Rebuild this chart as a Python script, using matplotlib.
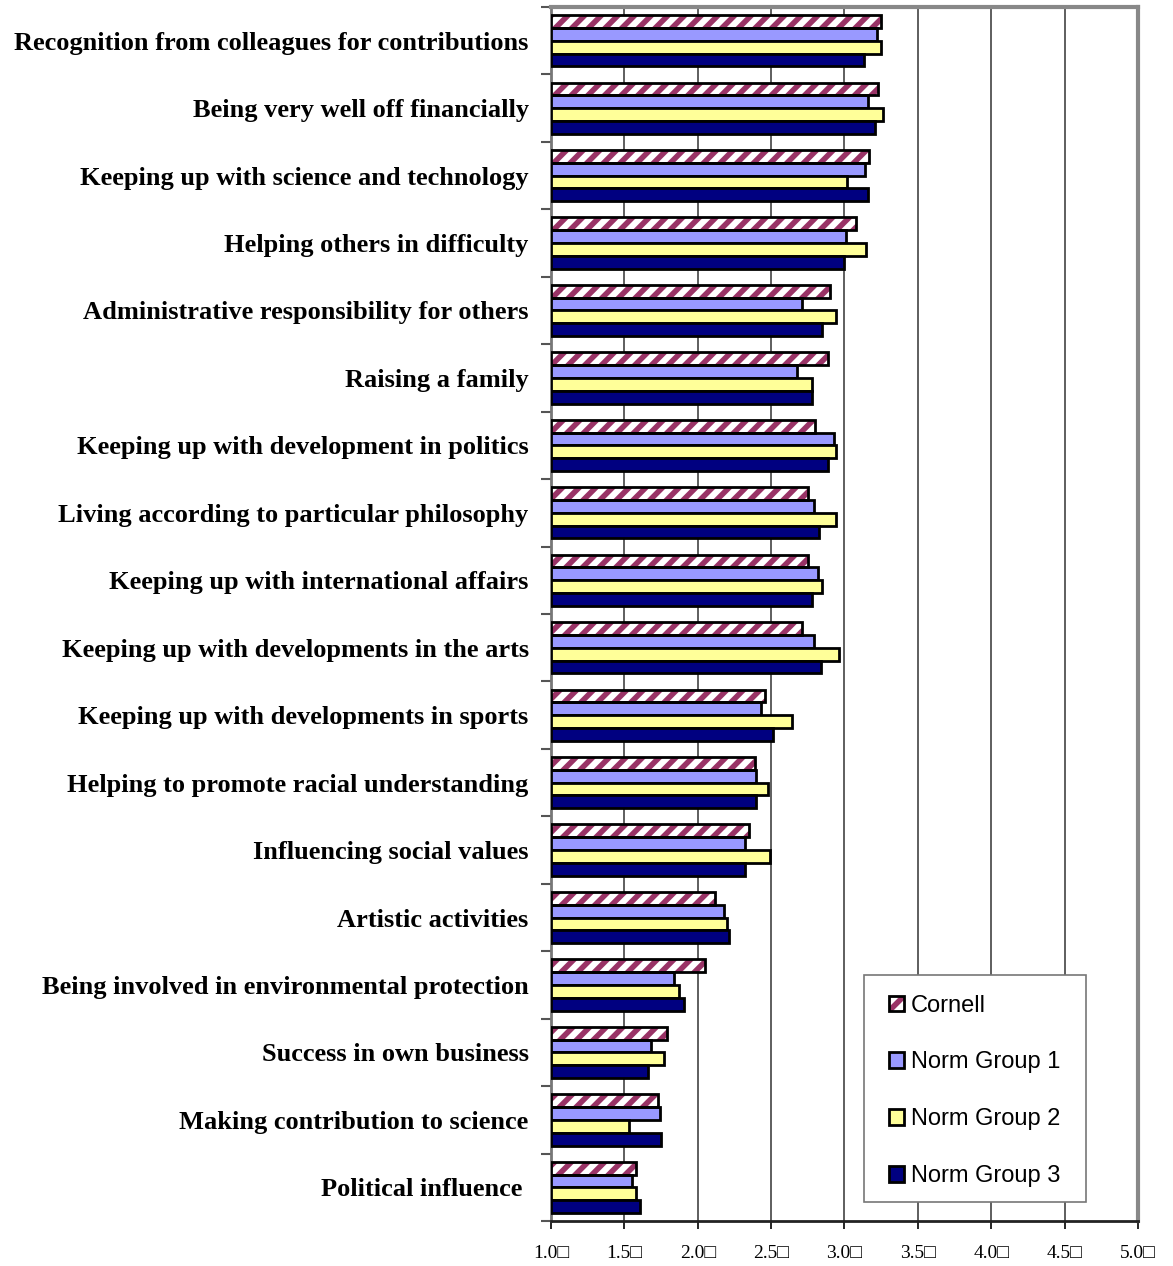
import numpy as np
import matplotlib
matplotlib.use("Agg")
import matplotlib.pyplot as plt
from matplotlib.patches import Rectangle
from matplotlib.legend_handler import HandlerTuple

# --- data ---
categories = [
    "Recognition from colleagues for contributions",
    "Being very well off financially",
    "Keeping up with science and technology",
    "Helping others in difficulty",
    "Administrative responsibility for others",
    "Raising a family",
    "Keeping up with development in politics",
    "Living according to particular philosophy",
    "Keeping up with international affairs",
    "Keeping up with developments in the arts",
    "Keeping up with developments in sports",
    "Helping to promote racial understanding",
    "Influencing social values",
    "Artistic activities",
    "Being involved in environmental protection",
    "Success in own business",
    "Making contribution to science",
    "Political influence ",
]
cornell = [3.25, 3.23, 3.17, 3.08, 2.90, 2.89, 2.80, 2.75, 2.75, 2.71,
           2.46, 2.39, 2.35, 2.12, 2.05, 1.79, 1.73, 1.58]
norm1 = [3.22, 3.16, 3.14, 3.01, 2.71, 2.68, 2.93, 2.79, 2.82, 2.79,
         2.43, 2.40, 2.32, 2.18, 1.84, 1.68, 1.74, 1.55]
norm2 = [3.25, 3.26, 3.02, 3.15, 2.94, 2.78, 2.94, 2.94, 2.85, 2.96,
         2.64, 2.48, 2.49, 2.20, 1.87, 1.77, 1.53, 1.58]
norm3 = [3.13, 3.21, 3.16, 3.00, 2.85, 2.78, 2.89, 2.83, 2.78, 2.84,
         2.51, 2.40, 2.32, 2.21, 1.91, 1.66, 1.75, 1.61]
xticks = [1.0, 1.5, 2.0, 2.5, 3.0, 3.5, 4.0, 4.5, 5.0]
xtick_labels = ["%.1f\u25a1" % v for v in xticks]

series_names = ["Cornell", "Norm Group 1", "Norm Group 2", "Norm Group 3"]
maroon = "#993366"
colors = ["white", "#9999FF", "#FFFF99", "#000080"]

plt.rcParams["hatch.linewidth"] = 4.0

W, H = 1173, 1266
fig = plt.figure(figsize=(W / 100, H / 100), dpi=100, facecolor="white")
ax = fig.add_axes([0.4697, 0.0355, 0.5004, 0.959])

n = len(categories)
y = np.arange(n)
h = 0.19
base = 1.0
offsets = [-1.5 * h, -0.5 * h, 0.5 * h, 1.5 * h]
edge_lw = 2.0

# Cornell: maroon hatch on white, then a black outline on top
cw = np.array(cornell) - base
ax.barh(y + offsets[0], cw, height=h, left=base, color="white",
        edgecolor=maroon, hatch="//", linewidth=0, zorder=3)
ax.barh(y + offsets[0], cw, height=h, left=base, fill=False,
        edgecolor="black", linewidth=edge_lw, zorder=4)

for vals, col, off in zip([norm1, norm2, norm3], colors[1:], offsets[1:]):
    ax.barh(y + off, np.array(vals) - base, height=h, left=base, color=col,
            edgecolor="black", linewidth=edge_lw, zorder=3)

ax.set_xlim(1.0, 5.0)
ax.set_ylim(n - 0.5, -0.5)

ax.set_xticks(xticks)
ax.set_xticklabels(xtick_labels, family=["Liberation Serif", "DejaVu Sans"],
                   fontsize=14)
ax.tick_params(axis="x", length=6, width=1.2, color="black", pad=11)

ax.set_yticks(np.arange(n + 1) - 0.5)
ax.set_yticklabels([])
ax.tick_params(axis="y", which="major", length=7, width=1.5, color="#555555")
ax.set_yticks(y, minor=True)
ax.set_yticklabels(categories, minor=True, family="Liberation Serif",
                   fontweight="bold", fontsize=19)
ax.tick_params(axis="y", which="minor", length=0, pad=16)

ax.grid(axis="x", color="#333333", linewidth=1.1, zorder=0)
ax.set_axisbelow(True)

ax.spines["top"].set_color("#888888")
ax.spines["top"].set_linewidth(3)
ax.spines["right"].set_color("#888888")
ax.spines["right"].set_linewidth(3)
ax.spines["left"].set_color("#777777")
ax.spines["left"].set_linewidth(2)
ax.spines["bottom"].set_color("#222222")
ax.spines["bottom"].set_linewidth(2)

# legend box drawn by hand, legend itself frameless
fig.add_artist(Rectangle((864 / W, 1 - 1202 / H), 222 / W, 227 / H,
                         transform=fig.transFigure, facecolor="white",
                         edgecolor="#777777", linewidth=1.2, zorder=9))
h_corn = (Rectangle((0, 0), 1, 1, facecolor="white", edgecolor=maroon,
                    hatch="//", linewidth=0),
          Rectangle((0, 0), 1, 1, fill=False, edgecolor="black", linewidth=edge_lw))
handles = [h_corn] + [Rectangle((0, 0), 1, 1, facecolor=c, edgecolor="black",
                                linewidth=edge_lw) for c in colors[1:]]
leg = fig.legend(handles, series_names, loc="upper left",
                 bbox_to_anchor=(889 / W, 1 - 994.5 / H),
                 handler_map={tuple: HandlerTuple(ndivide=1, pad=0)},
                 prop={"family": "Liberation Sans", "size": 17},
                 handlelength=0.62, handleheight=0.62, handletextpad=0.3,
                 labelspacing=1.48, borderpad=0, borderaxespad=0,
                 frameon=False)
leg.set_zorder(10)

fig.savefig("out.png", dpi=100, facecolor="white")
